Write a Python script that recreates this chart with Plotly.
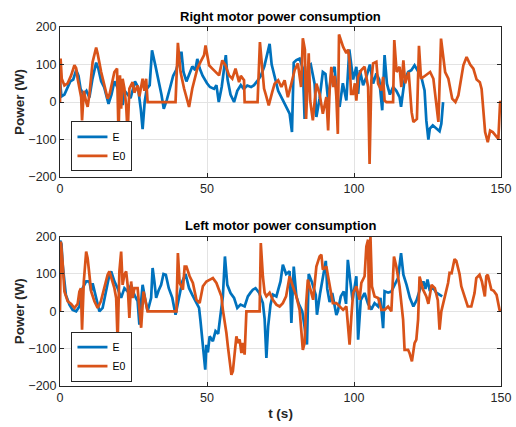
import plotly.graph_objects as go

# ---------------- data ----------------
# Right motor, E (blue)
t_right_E = [0, 0.5, 1.5, 2.5, 3.5, 4.5, 5.5, 6.3, 7, 8, 9, 10, 11, 12.3, 13, 14, 15, 16.5, 17.5, 18.5,
             19.5, 20.5, 21.3, 22, 23, 24, 25.5, 26.5, 27.5, 28.1, 28.8, 29.5, 30.5, 31.3, 32.5, 33.5, 34.5,
             35.3, 36.3, 37.5, 38.5, 39.5, 40.5, 41.3, 42, 43, 44, 45, 46, 46.7, 47.5, 48.5, 50, 51, 52.4,
             53.2, 54, 55, 56.4, 57, 58, 59.2, 60.3, 61.5, 62.5, 63.7, 65, 66, 67, 68.3, 69.5, 70.5, 71.3,
             72, 73, 74.2, 75.8, 76.9, 78.1, 78.9, 79.5, 80.4, 81.5, 82.6, 83.2, 84.4, 85.3, 86.6, 87.2,
             88.3, 89.4, 90.3, 91.2, 92.3, 93.4, 94.2, 95.1, 96.2, 97.4, 98.4, 99.7, 100.8, 101.4, 102,
             103.1, 104.2, 105.4, 106.5, 107.6, 108.6, 109.6, 110.4, 111.2, 112.2, 113.3, 114.4, 115.5,
             116, 117.2, 118.4, 119.5, 120.6, 121.8, 122.9, 124, 124.6, 125.3, 125.8, 126.8, 128, 129.1,
             129.7, 130.3]
p_right_E = [55, 15, 20, 40, 55, 60, 85, 70, 35, 20, 30, 12, 60, 105, 90, 55, 40, -5, 20, 55,
             40, 20, -8, 30, 20, 10, 55, 40, -20, -72, 0, 35, 45, 138, 95, 60, 20,
             -18, 5, 40, 70, 85, 110, 134, 80, 55, 75, 95, 85, 115, 90, 70, 50, 40, 35,
             45, 0, 40, 125, 60, 20, 0, 30, 45, 35, 44, 40, 45, 55, 70, 95, 130, 155,
             100, 65, 30, 5, -13, -31, -80, 105, 112, 116, 90, -45, 94, 100, 49, -40,
             10, 80, 75, 4, 76, 94, 10, -13, 50, 4, 140, 60, 94, 22, 85,
             45, 67, 100, 49, 76, 60, -22, 125, 49, 20, 40, 30, 13,
             -13, 58, 80, 85, 98, 80, 67, 31, -49, -100, -71, -62, -71, -78,
             -58, 0]

# Right motor, E0 (orange)
t_right_E0 = [0, 0.2, 0.6, 1.5, 2.6, 3.8, 4.9, 5.5, 6, 6.6, 7.2, 7.5, 8.1, 8.9, 9.4, 10, 10.6, 11.1,
              12.3, 12.8, 14, 15.1, 16.2, 16.9, 17.4, 18.5, 19.4, 19.9, 20.4, 20.8, 21.3, 21.9, 22.5,
              23, 23.6, 24.7, 25.3, 26.4, 27, 28.1, 28.7, 29.3, 29.8, 39.3, 40.1, 41, 42.2, 43.9, 45,
              46.7, 47.8, 49, 49.5, 50.7, 51.8, 53, 54.1, 55.2, 56.3, 57.5, 58.6, 59.7, 60.9, 61.5,
              62.6, 62.8, 67.2, 68, 68.8, 69.4, 70, 71, 72.2, 73, 74.2, 75.3, 76.4, 77.5, 78.7, 79.8,
              80.9, 81.5, 82, 82.6, 83.3, 83.7, 84.6, 85.1, 86, 87.2, 88.3, 89.4, 90.6, 91.2, 91.7,
              92.3, 93, 93.5, 94, 94.5, 94.9, 96.3, 97.4, 98, 98.5, 99, 99.7, 100.3, 100.8, 101.4,
              102.5, 103.6, 104.2, 104.8, 105.3, 105.9, 106.5, 107.6, 108.2, 109.3, 109.9, 110.4, 111,
              113.3, 113.7, 114.5, 115.5, 116.1, 116.8, 117.4, 118.6, 119.6, 120.2, 121.4, 122.1,
              122.8, 124.2, 125.9, 127, 128.7, 129.6, 131, 132.1, 133.4, 134.5, 135.5, 137.2, 138.3,
              139.5, 140.6, 141.7, 142.8, 143.4, 144.6, 145.5, 146.3, 147.2, 148, 149.1, 149.7, 150]
p_right_E0 = [0, 116, 62, 44, 50, 71, 98, 90, 62, 40, 13, -49, 30, 0, -13, 20, 67, 107,
              145, 129, 80, 44, 9, 22, 40, 80, 89, -85, 71, -18, 62, 36, -9,
              -85, 36, 53, 25, 44, 15, 62, 30, 62, 0, 0, 158, 80, 36, -13, 36,
              89, 107, 125, 151, 98, 89, 80, 71, 111, 98, 71, 62, 89, 53, 70,
              58, 0, 0, 160, 98, 36, 20, -9, 27, 49, 58, 40, 58, 13, 49, 85,
              103, 67, 40, 170, 140, -45, 130, 4, -49, 49, 22, -31, 13, -76, 31,
              94, 40, 70, 13, -85, 180, 147, 130, 140, 107, 22, 22, 50, 4, 67,
              85, 94, 67, 40, -165, 58, 103, 107, 49, 31, 67, 4, 0,
              0, 165, 80, 94, 40, 111, 50, 80, -27, -53, -45, 150,
              62, 70, 80, 62, -53, 169, 80, 62, 9, 0, 18, 98, 120,
              100, 89, 60, 53, 35, -80, -107, -76, -80, -89, -98, 0, 2]

# Left motor, E (blue)
t_left_E = [0, 0.5, 0.9, 1.5, 2, 3.2, 4.3, 5.5, 6.6, 7.7, 8.9, 10, 10.6, 11.1, 12.3, 13.4, 14.5, 15.7,
            16.8, 17.4, 18.5, 19.6, 20.8, 21.9, 23, 24.2, 25.3, 26.4, 27, 27.5, 28.1, 28.9, 29.8, 31,
            31.5, 32.1, 32.7, 33.5, 34.4, 35.2, 36, 37, 38.2, 39.3, 40.5, 41.6, 42.7, 43.9, 45, 46.1,
            47.3, 47.8, 48.4, 49, 49.4, 49.8, 50.3, 50.9, 52, 52.9, 53.8, 54.6, 55.4, 56.1, 56.9, 58,
            59.2, 60.3, 61.4, 62.8, 63.9, 64.8, 65.6, 66.5, 67.7, 69, 69.6, 70.2, 70.8, 71.6, 72.4,
            73.6, 75, 75.8, 76.9, 78.1, 78.7, 79.5, 80.4, 81.2, 82.4, 83.4, 84, 84.6, 85.6, 87, 87.4,
            88.5, 89.7, 90.4, 90.9, 91.7, 92.6, 94, 94.5, 95.5, 96.5, 97.3, 97.9, 98.5, 99.5, 100.8,
            101.4, 102.3, 103.6, 104.8, 105.9, 107, 108.2, 109, 109.9, 110.4, 111.6, 112.7, 113.9, 115,
            116, 116.8, 117.9, 119, 120.2, 121.3, 122.4, 123.6, 124.3, 125, 125.7, 127, 128, 129.3, 130]
p_left_E = [190, 180, 125, 80, 44, 18, 4, 0, 13, 62, 80, 80, 55, 75, 36, 0, 9, 53,
            98, 107, 80, 62, 36, 62, 53, 71, 44, 27, -36, 18, 71, 36, 0, 36,
            116, 80, 36, 55, 71, 100, 98, 62, 36, -9, 36, 80, 100, 62, 44, 27,
            9, -27, -80, -134, -156, -90, -110, -67, -80, -53, -60, -9, 40, 147, 71, 49,
            36, 9, 18, 13, 40, 50, 58, 62, 50, 22, -20, -125, -40, 18, 45,
            40, 80, 125, 100, 107, -31, 120, 40, 20, 0, -53, -89, 100, 80, 44, -9,
            50, 107, 135, 60, 25, 49, -10, 0, 40, 53, 20, 138, 100, 30, 94,
            -76, 30, 49, 20, 5, 22, 13, 36, -45, 54, 50, 53, 71, 90,
            156, 98, 70, 36, 13, 30, 58, 80, 60, 85, 58, 62, 50, 44, 40]

# Left motor, E0 (orange)
t_left_E0 = [0, 0.3, 0.9, 1.5, 2.6, 3.8, 4.9, 6, 6.6, 7.1, 7.5, 8.1, 8.9, 9.4, 10, 10.6, 11.7, 12.8,
             13.9, 15.1, 16.2, 16.8, 17.4, 18.5, 19.1, 19.6, 20.2, 20.8, 21.3, 21.9, 22.5, 23, 23.6,
             24.2, 24.7, 25.3, 26.4, 27, 27.6, 28.4, 29.3, 29.8, 39.6, 40.1, 40.7, 41.8, 42.4, 43, 44.1,
             45.2, 46.4, 47.5, 48.6, 49.8, 51, 52, 53.2, 54.9, 55.4, 56, 56.6, 57.1, 57.7, 58.3, 58.8,
             59.4, 60, 60.5, 61.1, 61.7, 62.2, 62.8, 63.4, 67.9, 68.3, 69, 69.6, 70.2, 71.3, 72.4,
             73.6, 74.7, 75.8, 76.9, 78.1, 79.2, 80.4, 81.5, 82.6, 83.2, 83.7, 84.3, 84.9, 86.1, 87.2,
             88.3, 88.9, 89.4, 90.6, 91.7, 92.8, 94, 95.1, 96.3, 97.4, 98.5, 99.1, 99.7, 100.8, 101.9,
             102.5, 103.6, 104.2, 104.8, 105.1, 105.6, 106.1, 107, 108.2, 109.3, 110.4, 111.6, 112.7,
             113.6, 114.4, 115.5, 116.7, 117.2, 118.4, 118.9, 119.7, 120.6, 121.2, 121.8, 122.3, 123.5,
             124.6, 125.3, 126.4, 127.5, 128.5, 129.1, 129.7, 130.8, 132, 132.5, 133.2, 134.2, 134.8,
             135.9, 136.5, 137.6, 138.7, 139.9, 141, 141.6, 142.7, 143.5, 144.5, 145, 145.5, 146.7,
             147.5, 148.5, 149.5, 150]
p_left_E0 = [0, 187, 130, 53, 27, 20, 9, 20, 53, 62, -49, 80, 160, 142, 98, 53, 27, 9,
             27, 62, 98, 107, 89, 62, 36, -80, 107, 160, 71, 98, 107, 71, -18,
             80, 36, 62, 62, 10, -44, 53, 18, 0, 0, 156, 76, 58, 120, 120, 94,
             76, 31, 22, 67, 80, 85, 89, 76, 40, 4, -22, -58, -94, -138, -170, -160,
             -112, -67, -85, -75, -112, -85, -116, 0, 0, 183, 94, 50, 40, 50, 31,
             18, 13, 22, 40, 94, 67, 40, 4, -103, -85, 18, 85, 67, 31, 120,
             147, 152, 112, 120, 67, 22, 22, 13, 4, 13, -89, -15, 49, 67, 31,
             76, 94, 174, 192, 4, 200, 67, 40, 36, 4, 4, 13, 0,
             147, 120, 67, -22, -103, -103, -112, -134, -85, -76, -22, 93, 58,
             40, 20, 71, 62, 30, -49, 0, 36, 76, 103, 102, 140, 135,
             100, 67, 40, 13, 13, 49, 89, 98, 80, 40, 94, 98, 58,
             55, 44, 4, 0]

series_names = ["E", "E0"]
series_colors = ["#0072BD", "#D95319"]
titles = ["Right motor power consumption", "Left motor power consumption"]
x_ticks = [0, 50, 100, 150]
y_ticks = [-200, -100, 0, 100, 200]

# ---------------- figure ----------------
FONT = "Liberation Sans, Arial, Helvetica, sans-serif"
AX = "#262626"
GRID = "#e3e3e3"

fig = go.Figure()
panels = [
    (t_right_E, p_right_E, t_right_E0, p_right_E0, "x", "y", "legend"),
    (t_left_E, p_left_E, t_left_E0, p_left_E0, "x2", "y2", "legend2"),
]
for tE, pE, tE0, pE0, xa, ya, lg in panels:
    for (tt, pp), name, col in zip([(tE, pE), (tE0, pE0)], series_names, series_colors):
        fig.add_trace(go.Scatter(x=tt, y=pp, mode="lines", name=name,
                                 line=dict(color=col, width=2.7),
                                 xaxis=xa, yaxis=ya, legend=lg))

common_x = dict(range=[0, 150], tickvals=x_ticks, showgrid=True, gridcolor=GRID, gridwidth=1,
                zeroline=False, showline=True, linecolor=AX, linewidth=1, mirror="ticks",
                ticks="inside", ticklen=4, tickcolor=AX, automargin=False,
                tickfont=dict(family=FONT, size=12.5, color=AX))
common_y = dict(range=[-200, 200], tickvals=y_ticks, showgrid=True, gridcolor=GRID, gridwidth=1,
                zeroline=False, showline=True, linecolor=AX, linewidth=1, mirror="ticks",
                ticks="inside", ticklen=4, tickcolor=AX, automargin=False,
                tickfont=dict(family=FONT, size=12.5, color=AX))

title_font = dict(family=FONT, size=13.5, color=AX)

fig.update_layout(
    width=516, height=427,
    margin=dict(l=60, r=15, t=27, b=41),
    paper_bgcolor="white", plot_bgcolor="white",
    showlegend=True,
    xaxis=dict(domain=[0, 1], anchor="y", **common_x),
    yaxis=dict(domain=[0.582, 1], anchor="x",
               title=dict(text="<b>Power (W)</b>", font=title_font, standoff=0), **common_y),
    xaxis2=dict(domain=[0, 1], anchor="y2",
                title=dict(text="<b>t (s)</b>", font=title_font, standoff=4), **common_x),
    yaxis2=dict(domain=[0, 0.416], anchor="x2",
                title=dict(text="<b>Power (W)</b>", font=title_font, standoff=0), **common_y),
    legend=dict(x=0.026, y=0.598, xanchor="left", yanchor="bottom",
                bgcolor="white", bordercolor=AX, borderwidth=1,
                font=dict(family=FONT, size=10.5, color="#000000"),
                tracegroupgap=0, itemwidth=30),
    legend2=dict(x=0.026, y=0.012, xanchor="left", yanchor="bottom",
                 bgcolor="white", bordercolor=AX, borderwidth=1,
                 font=dict(family=FONT, size=10.5, color="#000000"),
                 tracegroupgap=0, itemwidth=30),
    annotations=[
        dict(text="<b>%s</b>" % titles[0], x=0.5, xref="paper", xanchor="center",
             y=1, yref="paper", showarrow=False, font=dict(family=FONT, size=13, color="#000000")),
        dict(text="<b>%s</b>" % titles[1], x=0.5, xref="paper", xanchor="center",
             y=0.5, yref="paper", showarrow=False, font=dict(family=FONT, size=13, color="#000000")),
    ],
)
# place subplot titles at their pixel heights (converted to paper coords)
plot_h = 427 - 27 - 41
fig.layout.annotations[0].update(y=1 - (17 - 27) / plot_h, yanchor="middle")
fig.layout.annotations[1].update(y=1 - (226 - 27) / plot_h, yanchor="middle")

fig.write_html("out.html", config={"displayModeBar": False},
               post_script="document.body.style.margin='0';document.body.style.overflow='hidden';")
